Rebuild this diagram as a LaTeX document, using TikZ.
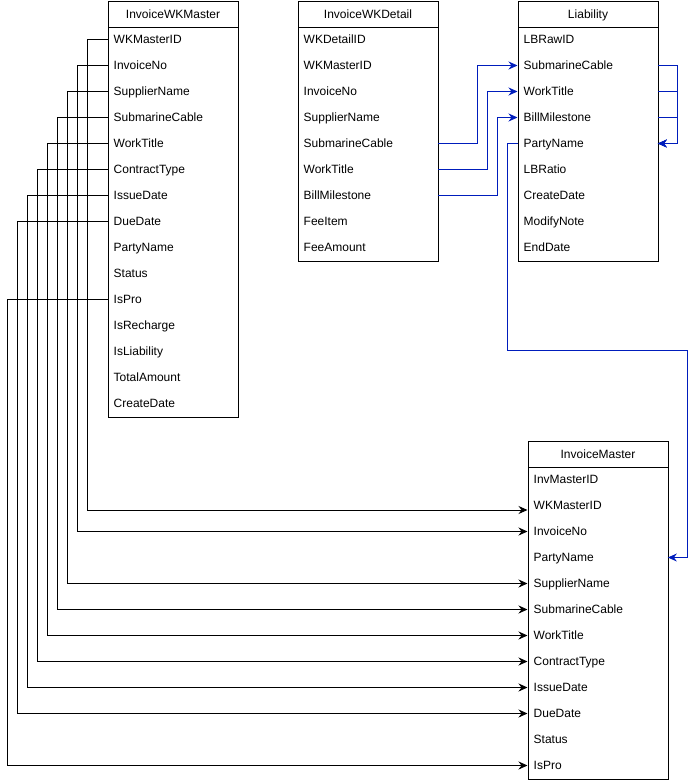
\documentclass[tikz,border=0pt]{standalone}
\usepackage{fontspec}
\setmainfont{Liberation Sans}
\usetikzlibrary{arrows.meta}
\definecolor{linkblue}{HTML}{001DBC}
\begin{document}
\begin{tikzpicture}[x=1pt,y=-1pt,
  every node/.style={font=\fontsize{12}{14}\selectfont},
  tblhead/.style={draw, line width=1pt, minimum height=26pt, inner sep=0pt, anchor=north west, text height=10pt, text depth=2pt},
  tblbody/.style={draw, line width=1pt, inner sep=0pt, anchor=north west},
  rowcell/.style={inner xsep=6pt, inner ysep=0pt, minimum height=26pt, anchor=west, align=left, text height=10pt, text depth=2pt},
  tip/.style={-{Stealth[length=9pt,width=8pt,inset=3pt]}},
  conn/.style={draw=black, line width=1pt, tip},
  bconn/.style={draw=linkblue, line width=1pt, tip}
]
\useasboundingbox (0,0) rectangle (697,782);

% InvoiceWKMaster
\node[tblhead, minimum width=130pt] (wkmh) at (107.5,0.5) {InvoiceWKMaster};
\node[tblbody, minimum width=130pt, minimum height=390pt] (wkmb) at (107.5,26.5) {};
\foreach \t [count=\i] in {WKMasterID,InvoiceNo,SupplierName,SubmarineCable,WorkTitle,ContractType,IssueDate,DueDate,PartyName,Status,IsPro,IsRecharge,IsLiability,TotalAmount,CreateDate}
  \node[rowcell, text width=118pt] (wkm\i) at (107.5,13.5+26*\i) {\t};

% InvoiceWKDetail
\node[tblhead, minimum width=140pt] (wkdh) at (297.5,0.5) {InvoiceWKDetail};
\node[tblbody, minimum width=140pt, minimum height=234pt] (wkdb) at (297.5,26.5) {};
\foreach \t [count=\i] in {WKDetailID,WKMasterID,InvoiceNo,SupplierName,SubmarineCable,WorkTitle,BillMilestone,FeeItem,FeeAmount}
  \node[rowcell, text width=128pt] (wkd\i) at (297.5,13.5+26*\i) {\t};

% Liability
\node[tblhead, minimum width=140pt] (liah) at (517.5,0.5) {Liability};
\node[tblbody, minimum width=140pt, minimum height=234pt] (liab) at (517.5,26.5) {};
\foreach \t [count=\i] in {LBRawID,SubmarineCable,WorkTitle,BillMilestone,PartyName,LBRatio,CreateDate,ModifyNote,EndDate}
  \node[rowcell, text width=128pt] (lia\i) at (517.5,13.5+26*\i) {\t};

% InvoiceMaster
\node[tblhead, minimum width=140pt] (imh) at (527.5,440.5) {InvoiceMaster};
\node[tblbody, minimum width=140pt, minimum height=312pt] (imb) at (527.5,466.5) {};
\foreach \t [count=\i] in {InvMasterID,WKMasterID,InvoiceNo,PartyName,SupplierName,SubmarineCable,WorkTitle,ContractType,IssueDate,DueDate,Status,IsPro}
  \node[rowcell, text width=128pt] (im\i) at (527.5,453.5+26*\i) {\t};

% black connectors
\draw[conn] (wkm1.west) -- ++(-20,0) |- ([yshift=-4.5pt]im2.west);
\draw[conn] (wkm2.west) -- ++(-30,0) |- (im3.west);
\draw[conn] (wkm3.west) -- ++(-40,0) |- (im5.west);
\draw[conn] (wkm4.west) -- ++(-50,0) |- (im6.west);
\draw[conn] (wkm5.west) -- ++(-60,0) |- (im7.west);
\draw[conn] (wkm6.west) -- ++(-70,0) |- (im8.west);
\draw[conn] (wkm7.west) -- ++(-80,0) |- (im9.west);
\draw[conn] (wkm8.west) -- ++(-90,0) |- (im10.west);
\draw[conn] (wkm11.west) -- ++(-100,0) |- (im12.west);

% blue connectors
\draw[bconn] (wkd5.east) -- ++(40,0) |- (lia2.west);
\draw[bconn] (wkd6.east) -- ++(50,0) |- (lia3.west);
\draw[bconn] (wkd7.east) -- ++(60,0) |- (lia4.west);
\draw[bconn] (lia2.east) -- ++(20,0) |- (lia5.east);
\draw[bconn] (lia3.east) -- ++(20,0) |- (lia5.east);
\draw[bconn] (lia4.east) -- ++(20,0) |- (lia5.east);
\coordinate (pnbend) at (687.5,350.5);
\draw[bconn] (lia5.west) -- ++(-10,0) |- (pnbend) |- (im4.east);
\end{tikzpicture}
\end{document}
